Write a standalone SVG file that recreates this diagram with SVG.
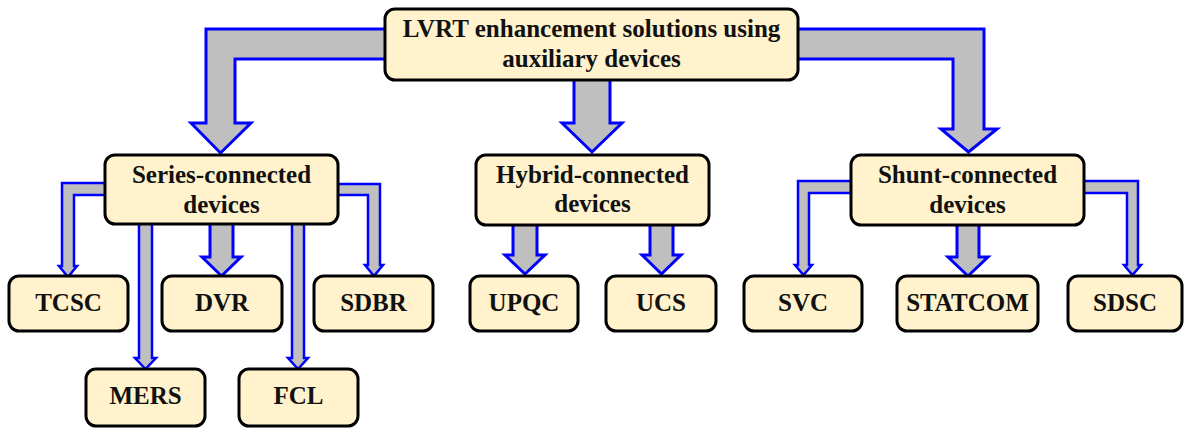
<svg xmlns="http://www.w3.org/2000/svg" width="1184" height="430" viewBox="0 0 1184 430">
<style>
.box{fill:#FFF2CC;stroke:#000;stroke-width:3}
.arr{fill:#BFBFBF;stroke:#0000FF;stroke-width:3;stroke-linejoin:miter}
.arr2{fill:#BFBFBF;stroke:#0000FF;stroke-width:2.5;stroke-linejoin:miter}
text{font-family:"Liberation Serif","Times New Roman",serif;font-weight:bold;font-size:25px;fill:#111;text-anchor:middle}
</style>
<rect width="1184" height="430" fill="#fff"/>
<g id="connectors">
<polygon class="arr" points="387,29 206,29 206,123 191,123 220.5,153 251,123 235,123 235,59 387,59"/>
<polygon class="arr" points="574,78 574,123 562,123 592,152 622,123 610,123 610,78"/>
<polygon class="arr" points="796,29 984,29 984,129 997,129 968.5,152 941,129 953,129 953,59 796,59"/>
<polygon class="arr2" points="107,183 62,183 62,266 59,266 68,277 77,266 74,266 74,195 107,195"/>
<polygon class="arr2" points="139,222 139,358 135,358 145.5,369 156,358 152,358 152,222"/>
<polygon class="arr" points="210,222 210,257 202,257 221.5,276 241,257 233,257 233,222"/>
<polygon class="arr2" points="292,222 292,358 288,358 298,369 308,358 304,358 304,222"/>
<polygon class="arr2" points="336,184 380,184 380,265 383,265 374,276 365,265 368,265 368,195 336,195"/>
<polygon class="arr" points="513,223 513,255 505,255 525,274 545,255 537,255 537,223"/>
<polygon class="arr" points="650,223 650,255 642,255 661.5,274 681,255 673,255 673,223"/>
<polygon class="arr2" points="853,181 798,181 798,265 795,265 803.5,275 812,265 809,265 809,193 853,193"/>
<polygon class="arr" points="957,223 957,257 948,257 968,276 988,257 979,257 979,223"/>
<polygon class="arr2" points="1082,181 1138,181 1138,265 1141,265 1132.5,275 1124,265 1127,265 1127,193 1082,193"/>
</g>
<g id="root">
<rect class="box" x="385" y="9" width="413" height="71" rx="10"/>
<text x="591.5" y="37">LVRT enhancement solutions using</text>
<text x="591.5" y="67">auxiliary devices</text>
</g>
<g id="series">
<rect class="box" x="105" y="155" width="233" height="69" rx="10"/>
<text x="221.5" y="183">Series-connected</text>
<text x="221.5" y="213">devices</text>
</g>
<g id="hybrid">
<rect class="box" x="476" y="155" width="233" height="70" rx="10"/>
<text x="592.5" y="183">Hybrid-connected</text>
<text x="592.5" y="212">devices</text>
</g>
<g id="shunt">
<rect class="box" x="851" y="155" width="233" height="70" rx="10"/>
<text x="967.5" y="183">Shunt-connected</text>
<text x="967.5" y="213">devices</text>
</g>
<g id="tcsc"><rect class="box" x="9" y="276" width="119" height="55" rx="10"/><text x="68.5" y="311">TCSC</text></g>
<g id="dvr"><rect class="box" x="162" y="276" width="120" height="55" rx="10"/><text x="222" y="311">DVR</text></g>
<g id="sdbr"><rect class="box" x="314" y="276" width="119" height="55" rx="10"/><text x="373.5" y="311">SDBR</text></g>
<g id="mers"><rect class="box" x="86" y="369" width="119" height="57" rx="10"/><text x="145.5" y="404">MERS</text></g>
<g id="fcl"><rect class="box" x="239" y="369" width="119" height="57" rx="10"/><text x="298.5" y="404">FCL</text></g>
<g id="upqc"><rect class="box" x="470" y="276" width="108" height="55" rx="10"/><text x="524" y="311">UPQC</text></g>
<g id="ucs"><rect class="box" x="606" y="276" width="110" height="55" rx="10"/><text x="661" y="311">UCS</text></g>
<g id="svc"><rect class="box" x="744" y="276" width="118" height="55" rx="10"/><text x="803" y="311">SVC</text></g>
<g id="statcom"><rect class="box" x="897" y="276" width="141" height="55" rx="10"/><text x="967.5" y="311">STATCOM</text></g>
<g id="sdsc"><rect class="box" x="1068" y="276" width="114" height="55" rx="10"/><text x="1125" y="311">SDSC</text></g>
</svg>
